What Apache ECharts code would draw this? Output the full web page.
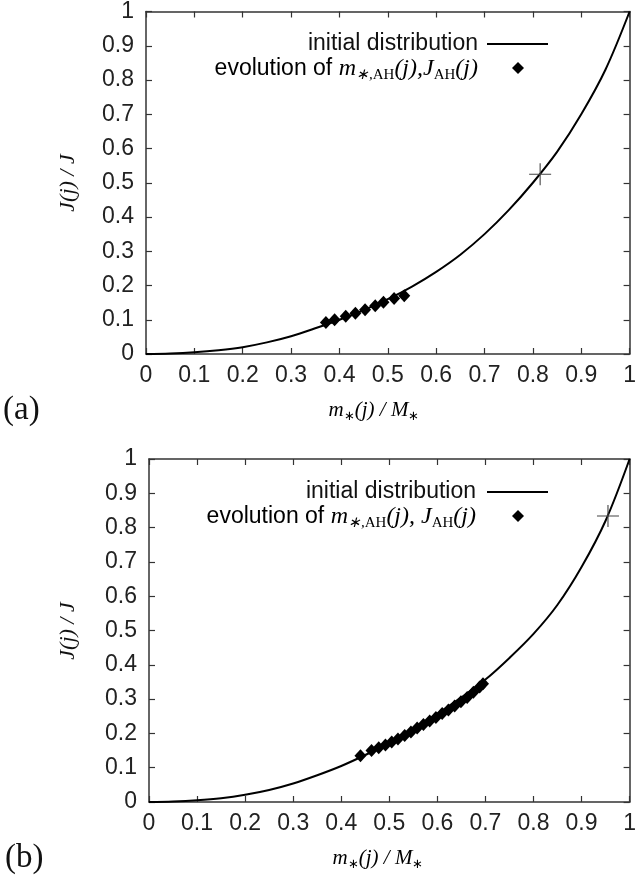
<!DOCTYPE html>
<html>
<head>
<meta charset="utf-8">
<script src="https://cdn.jsdelivr.net/npm/echarts@6/dist/echarts.min.js"></script>
<style>
  html, body { margin: 0; padding: 0; background: #fff; }
  #chart { width: 639px; height: 883px; }
</style>
</head>
<body>
<div id="chart"></div>
<script>
// Sampled points of the initial J(m) distribution (normalised)
const curveX = [0, 0.05, 0.1, 0.15, 0.2, 0.25, 0.3, 0.35, 0.4, 0.45, 0.5,
                0.55, 0.6, 0.65, 0.7, 0.75, 0.8, 0.85, 0.9, 0.95, 1.0];
const curveYA = [0, 0.0015, 0.005, 0.011, 0.02, 0.034, 0.052, 0.075, 0.100, 0.128, 0.160,
                 0.197, 0.24, 0.29, 0.35, 0.42, 0.50, 0.59, 0.70, 0.83, 1.0];
const curveYB = [0, 0.0015, 0.005, 0.011, 0.021, 0.035, 0.054, 0.078, 0.105, 0.137, 0.172,
                 0.212, 0.257, 0.305, 0.357, 0.42, 0.49, 0.575, 0.685, 0.82, 1.0];

// Evolution of m*,AH(j), J_AH(j)
const evoXA = [0.372, 0.39, 0.413, 0.433, 0.453, 0.474, 0.491, 0.513, 0.534];
const evoYA = [0.092, 0.100, 0.110, 0.119, 0.129, 0.141, 0.151, 0.162, 0.170];
const evoXB = [0.44, 0.463, 0.478, 0.492, 0.505, 0.518, 0.532, 0.545, 0.558, 0.571,
               0.584, 0.597, 0.61, 0.623, 0.636, 0.649, 0.662, 0.675, 0.688, 0.695];
const evoYB = [0.135, 0.150, 0.158, 0.166, 0.175, 0.184, 0.194, 0.204, 0.216, 0.226,
               0.236, 0.246, 0.258, 0.268, 0.280, 0.292, 0.305, 0.320, 0.335, 0.345];

// Single marked point on each curve
const markA = [0.815, 0.525];
const markB = [0.955, 0.834];

const axisMin = 0, axisMax = 1, axisStep = 0.1;

const zip = (xs, ys) => xs.map((x, i) => [x, ys[i]]);

const frameColor = '#333';
const sansFont = '"Liberation Sans", Arial, sans-serif';
const serifFont = '"Liberation Serif", "Times New Roman", serif';

function axisPair(kind, gridIndex, showLabels, position) {
  return {
    type: 'value', gridIndex, position,
    min: axisMin, max: axisMax, interval: axisStep,
    axisLine: { show: true, onZero: false, lineStyle: { color: frameColor, width: 1.5 } },
    axisTick: { show: true, inside: true, length: 6, lineStyle: { color: frameColor, width: 1.2 } },
    axisLabel: {
      show: showLabels, color: '#222', fontFamily: sansFont, fontSize: 23,
      margin: kind === 'x' ? 10 : 12
    },
    splitLine: { show: false }
  };
}

const grids = [
  { left: 146, top: 11, width: 487, height: 343 },
  { left: 149, top: 459, width: 488, height: 343 }
];

const xAxes = [], yAxes = [];
grids.forEach((g, i) => {
  xAxes.push(axisPair('x', i, true, 'bottom'));
  xAxes.push(axisPair('x', i, false, 'top'));
  yAxes.push(axisPair('y', i, true, 'left'));
  yAxes.push(axisPair('y', i, false, 'right'));
});

const plusPath = 'path://M0,5L10,5M5,0L5,10';

function panelSeries(i, curveY, evoX, evoY, mark) {
  return [
    {
      name: 'initial distribution', type: 'line', xAxisIndex: 2 * i, yAxisIndex: 2 * i,
      data: zip(curveX, curveY), smooth: 0.35, symbol: 'none',
      lineStyle: { color: '#000', width: 2 }, z: 2
    },
    {
      name: 'evolution', type: 'scatter', xAxisIndex: 2 * i, yAxisIndex: 2 * i,
      data: zip(evoX, evoY), symbol: 'diamond', symbolSize: [12, 13],
      itemStyle: { color: '#000', opacity: 1 }, z: 3
    },
    {
      name: 'mark', type: 'scatter', xAxisIndex: 2 * i, yAxisIndex: 2 * i,
      data: [mark], symbol: plusPath, symbolSize: 22,
      itemStyle: { color: 'none', borderColor: '#444', borderWidth: 1.1, opacity: 1 }, z: 4
    }
  ];
}

const richMath = {
  s: { fontFamily: sansFont, fontSize: 23, lineHeight: 28, color: '#111' },
  mi: { fontFamily: serifFont, fontStyle: 'italic', fontSize: 24, lineHeight: 28, color: '#111' },
  sb: { fontFamily: serifFont, fontStyle: 'italic', fontSize: 15, lineHeight: 15, verticalAlign: 'bottom', color: '#111' },
  sr: { fontFamily: serifFont, fontSize: 15, lineHeight: 15, verticalAlign: 'bottom', color: '#111' }
};

function legendGraphics(dy, evoText, textRight) {
  return [
    {
      type: 'text', x: textRight, y: 44 + dy,
      style: { text: 'initial distribution', font: '23px ' + sansFont, fill: '#111',
               align: 'right', verticalAlign: 'middle' }
    },
    {
      type: 'line', shape: { x1: 487, y1: 44 + dy, x2: 548, y2: 44 + dy },
      style: { stroke: '#000', lineWidth: 2 }
    },
    {
      type: 'text', x: textRight, y: 69 + dy,
      style: { text: evoText, rich: richMath, align: 'right', verticalAlign: 'middle' }
    },
    {
      type: 'polygon',
      shape: { points: [[518, 62 + dy], [524, 68 + dy], [518, 74 + dy], [512, 68 + dy]] },
      style: { fill: '#000' }
    }
  ];
}

const titleRich = {
  mi: { fontFamily: serifFont, fontStyle: 'italic', fontSize: 21, lineHeight: 26, color: '#111' },
  st: { fontFamily: serifFont, fontSize: 13, lineHeight: 13, verticalAlign: 'bottom', color: '#111' }
};

function titleGraphics(dy, xCenter) {
  return [
    {
      type: 'text', x: xCenter, y: 410 + dy,
      style: { text: '{mi|m}{st|∗}{mi|(j) / M}{st|∗}', rich: titleRich,
               align: 'center', verticalAlign: 'middle' }
    },
    {
      type: 'text', x: 68, y: 183 + dy, rotation: Math.PI / 2,
      style: { text: 'J(j) / J', font: 'italic 22px ' + serifFont, fill: '#111',
               align: 'center', verticalAlign: 'middle' }
    }
  ];
}

const graphics = [].concat(
  legendGraphics(0, '{s|evolution of }{mi|m}{sb|∗,}{sr|AH}{mi|(j),J}{sr|AH}{mi|(j)}', 478),
  legendGraphics(448, '{s|evolution of }{mi|m}{sb|∗,}{sr|AH}{mi|(j), J}{sr|AH}{mi|(j)}', 476),
  titleGraphics(0, 374),
  titleGraphics(448, 378),
  [
    { type: 'text', x: 3, y: 410, style: { text: '(a)', font: '33px ' + serifFont, fill: '#111', verticalAlign: 'middle' } },
    { type: 'text', x: 5, y: 858, style: { text: '(b)', font: '33px ' + serifFont, fill: '#111', verticalAlign: 'middle' } }
  ]
);

const chart = echarts.init(document.getElementById('chart'), null, { renderer: 'canvas' });
chart.setOption({
  animation: false,
  backgroundColor: '#fff',
  grid: grids,
  xAxis: xAxes,
  yAxis: yAxes,
  series: [].concat(
    panelSeries(0, curveYA, evoXA, evoYA, markA),
    panelSeries(1, curveYB, evoXB, evoYB, markB)
  ),
  graphic: graphics
});
</script>
</body>
</html>
